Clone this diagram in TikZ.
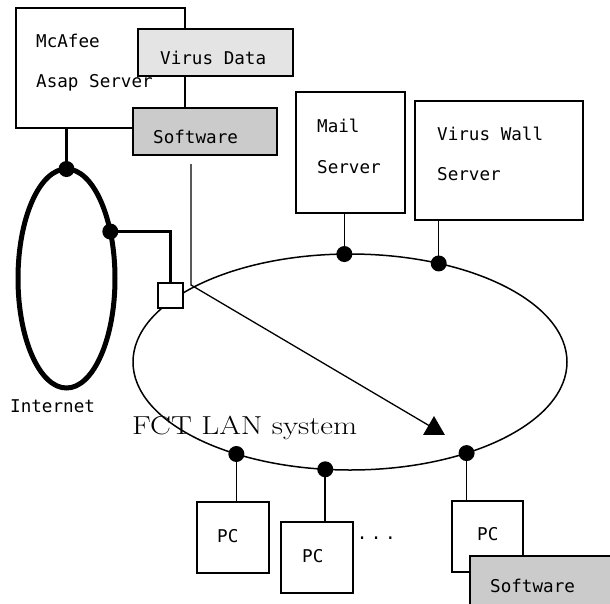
\documentclass[tikz,border=0pt]{standalone}
\usepackage{fontspec}
\setmonofont{DejaVu Sans Mono}
\usepackage{tikz}
\usetikzlibrary{shapes.geometric}
\definecolor{datagray}{HTML}{E4E4E4}
\definecolor{softgray}{HTML}{CBCBCB}
\tikzset{host/.style={draw, line width=1.5pt, fill=white, inner sep=0}}
\tikzset{ring/.style={draw, ellipse, inner sep=0, outer sep=0}}
\tikzset{tag/.style={anchor=base west, inner sep=0, font=\ttfamily\fontsize{17.6}{21}\selectfont}}
\tikzset{jack/.style={circle, fill=black, inner sep=0, minimum size=16pt}}
\tikzset{cable/.style={line width=3.5pt}}
\tikzset{drop/.style={line width=1.5pt}}

\begin{document}
\begin{tikzpicture}[x=1pt, y=-1pt]
  \useasboundingbox (0,0) rectangle (610,603);

  % the two networks
  \node[ring, line width=1.5pt, minimum width=434pt, minimum height=216pt] at (350,362) (lan) {};
  \node[ring, line width=5pt, minimum width=97pt, minimum height=219pt] at (66.5,278.5) (inet) {};
  \node[tag] at (10,412) {Internet};
  \node[anchor=base west, inner sep=0, font=\fontsize{26}{31}\selectfont] at (132,434) (lanname) {\scalebox{1.2}[1]{FCT LAN system}};

  % asap server with its packages
  \node[host, minimum width=169pt, minimum height=120pt] at (100.5,68) (asap) {};
  \node[host, fill=datagray, minimum width=155pt, minimum height=47pt] at (215.5,52.5) (vdata) {};
  \node[host, fill=softgray, minimum width=144pt, minimum height=47pt] at (205,131.5) (softtop) {};
  \node[tag] at (36,47) {McAfee};
  \node[tag] at (36,87) {Asap Server};
  \node[tag] at (160,64) {Virus Data};
  \node[tag] at (153,143) {Software};

  % servers on the lan
  \node[host, minimum width=109pt, minimum height=121pt] at (350.5,152.5) (mail) {};
  \node[host, minimum width=168pt, minimum height=119pt] at (499,160.5) (vwall) {};
  \node[tag] at (317,132) {Mail};
  \node[tag] at (317,173) {Server};
  \node[tag] at (437,140) {Virus Wall};
  \node[tag] at (437,180) {Server};

  % clients
  \node[host, minimum width=72pt, minimum height=71pt] at (233,537.5) (pcA) {};
  \node[host, minimum width=72pt, minimum height=71pt] at (317,557.5) (pcB) {};
  \node[host, minimum width=71pt, minimum height=71pt] at (487.5,536.5) (pcC) {};
  \node[host, fill=softgray, minimum width=155pt, minimum height=60pt] at (547.5,586) (softbot) {};
  \node[tag] at (217,542) {PC};
  \node[tag] at (302,562) {PC};
  \node[tag] at (477,540) {PC};
  \node[tag] at (490,592) {Software};
  \node[tag] at (356.7,539) (more) {.\hspace{3.5pt}.\hspace{3.5pt}.};

  % gateway between internet and lan
  \node[host, minimum size=25pt] at (170.5,295.5) (gate) {};

  % hooks on the rings
  \node[jack] at (inet.north) (asapdot) {};
  \node[jack] at (inet.47) (gatedot) {};
  \node[jack] at (lan.93) (maildot) {};
  \node[jack] at (lan.48.7) (vwdot) {};
  \node[jack] at (lan.219) (pcAdot) {};
  \node[jack] at (lan.257) (pcBdot) {};
  \node[jack] at (lan.322.5) (pcCdot) {};

  \draw[cable] (asapdot.center) -- (asapdot |- asap.south);
  \draw[cable] (gatedot.center) -| (gate.north);
  \draw[drop] (maildot.center) -- (maildot |- mail.south);
  \draw[drop] (vwdot.center) -- (vwdot |- vwall.south);
  \draw[drop] (pcAdot.center) -- (pcAdot |- pcA.north);
  \draw[drop] (pcBdot.center) -- (pcBdot |- pcB.north);
  \draw[drop] (pcCdot.center) -- (pcCdot |- pcC.north);

  % update path from the asap server
  \coordinate (feed) at (191,164);
  \coordinate (bend) at (191,285);
  \node[regular polygon, regular polygon sides=3, fill=black, inner sep=0, minimum size=25pt] at (434,428.5) (tip) {};
  \draw[line width=1.3pt] (feed) -- (bend) -- (tip.center);
\end{tikzpicture}
\end{document}
